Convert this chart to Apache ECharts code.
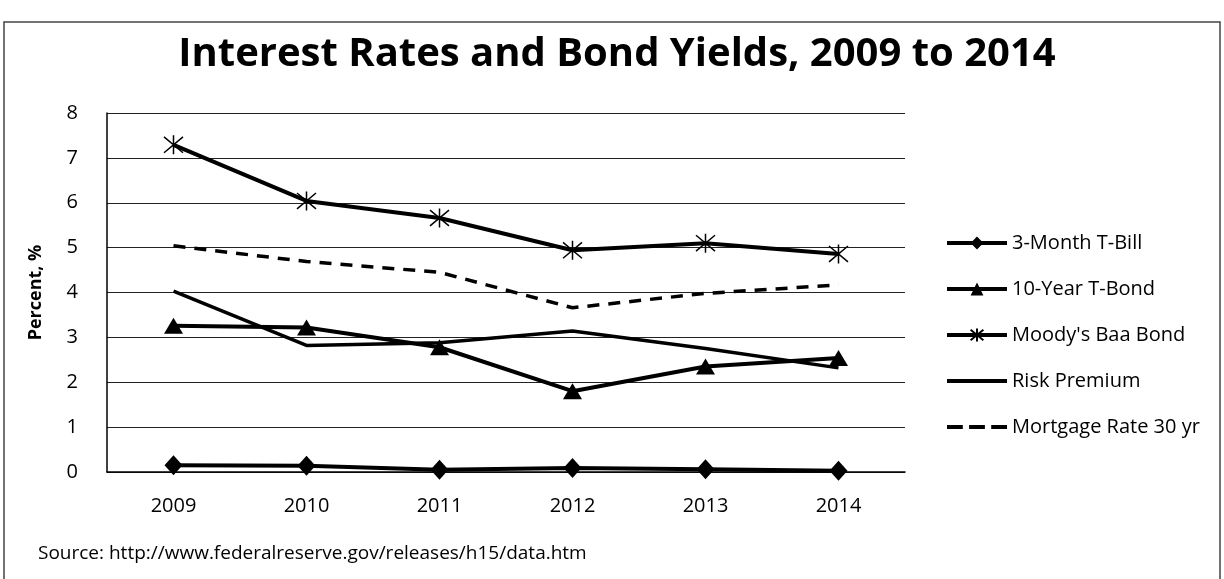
<!DOCTYPE html>
<html>
<head>
<meta charset="utf-8">
<script src="https://cdn.jsdelivr.net/npm/echarts@6/dist/echarts.min.js"></script>
<style>
  html, body { margin: 0; padding: 0; background: #fff; }
  #chart { width: 1224px; height: 579px; }
</style>
</head>
<body>
<div id="chart"></div>
<script>
// values
const years = ['2009', '2010', '2011', '2012', '2013', '2014']
const tBill = [0.15, 0.14, 0.05, 0.09, 0.06, 0.03]
const tBond = [3.26, 3.22, 2.78, 1.80, 2.35, 2.54]
const baaBond = [7.29, 6.04, 5.66, 4.94, 5.10, 4.86]
const riskPremium = [4.03, 2.82, 2.88, 3.14, 2.75, 2.32]
const mortgage = [5.04, 4.69, 4.45, 3.66, 3.98, 4.17]

const font = 'Open Sans'
const asterisk = 'path://M0,0L10,10M10,0L0,10M5,-1L5,11'
// legend icons for the two series without markers
const solidIcon = 'path://M0,0H60V4H0Z'
const dashIcon = 'path://M0,0H15V4H0Z M21,0H36V4H21Z M42,0H57V4H42Z'

const chart = echarts.init(document.getElementById('chart'))

const lineSeries = (name, data, extra) => Object.assign({
  name: name,
  type: 'line',
  data: data,
  symbolSize: 14,
  lineStyle: { color: '#000', width: 4 },
  itemStyle: { color: '#000' },
  emphasis: { disabled: true }
}, extra)

chart.setOption({
  animation: false,
  title: {
    text: 'Interest Rates and Bond Yields, 2009 to 2014',
    left: 612,
    textAlign: 'center',
    top: 30,
    textStyle: { fontFamily: font, fontWeight: 'bold', fontSize: 40, color: '#000' }
  },
  graphic: [{
    type: 'rect',
    shape: { x: 4, y: 22, width: 1216, height: 560 },
    style: { fill: 'none', stroke: '#444', lineWidth: 1.5 },
    silent: true
  }, {
    type: 'text',
    left: 38,
    top: 544,
    style: {
      text: 'Source: http://www.federalreserve.gov/releases/h15/data.htm',
      font: '19px "Open Sans"',
      fill: '#000'
    }
  }],
  legend: {
    orient: 'vertical',
    left: 940,
    top: 228,
    itemWidth: 60,
    itemHeight: 16,
    itemGap: 26,
    lineStyle: { width: 4 },
    textStyle: { fontFamily: font, fontSize: 20, color: '#000' },
    data: [
      '3-Month T-Bill',
      '10-Year T-Bond',
      "Moody's Baa Bond",
      { name: 'Risk Premium', icon: solidIcon },
      { name: 'Mortgage Rate 30 yr', icon: dashIcon }
    ]
  },
  grid: { left: 107, right: 319, top: 113, bottom: 107 },
  xAxis: {
    type: 'category',
    data: years,
    boundaryGap: true,
    axisLine: { lineStyle: { color: '#000', width: 1.5 } },
    axisTick: { show: false },
    axisLabel: { fontFamily: font, fontSize: 20, color: '#000', margin: 24 }
  },
  yAxis: {
    type: 'value',
    min: 0,
    max: 8,
    interval: 1,
    name: 'Percent, %',
    nameLocation: 'middle',
    nameGap: 62,
    nameTextStyle: { fontFamily: font, fontWeight: 'bold', fontSize: 18, color: '#000' },
    axisLine: { show: true, lineStyle: { color: '#000', width: 1.5 } },
    axisTick: { show: false },
    axisLabel: { fontFamily: font, fontSize: 20, color: '#000', margin: 29 },
    splitLine: { lineStyle: { color: '#222', width: 1.2 } }
  },
  series: [
    lineSeries('3-Month T-Bill', tBill, { symbol: 'diamond', symbolSize: [18, 20] }),
    lineSeries('10-Year T-Bond', tBond, { symbol: 'triangle', symbolSize: [19, 16] }),
    lineSeries("Moody's Baa Bond", baaBond, {
      symbol: asterisk,
      symbolSize: 19,
      itemStyle: { color: 'none', borderColor: '#000', borderWidth: 1.5 }
    }),
    lineSeries('Risk Premium', riskPremium, { symbol: 'none', lineStyle: { color: '#000', width: 3.5 } }),
    lineSeries('Mortgage Rate 30 yr', mortgage, {
      symbol: 'none',
      lineStyle: { color: '#000', width: 3.5, type: [12, 9] }
    })
  ]
})
</script>
</body>
</html>
